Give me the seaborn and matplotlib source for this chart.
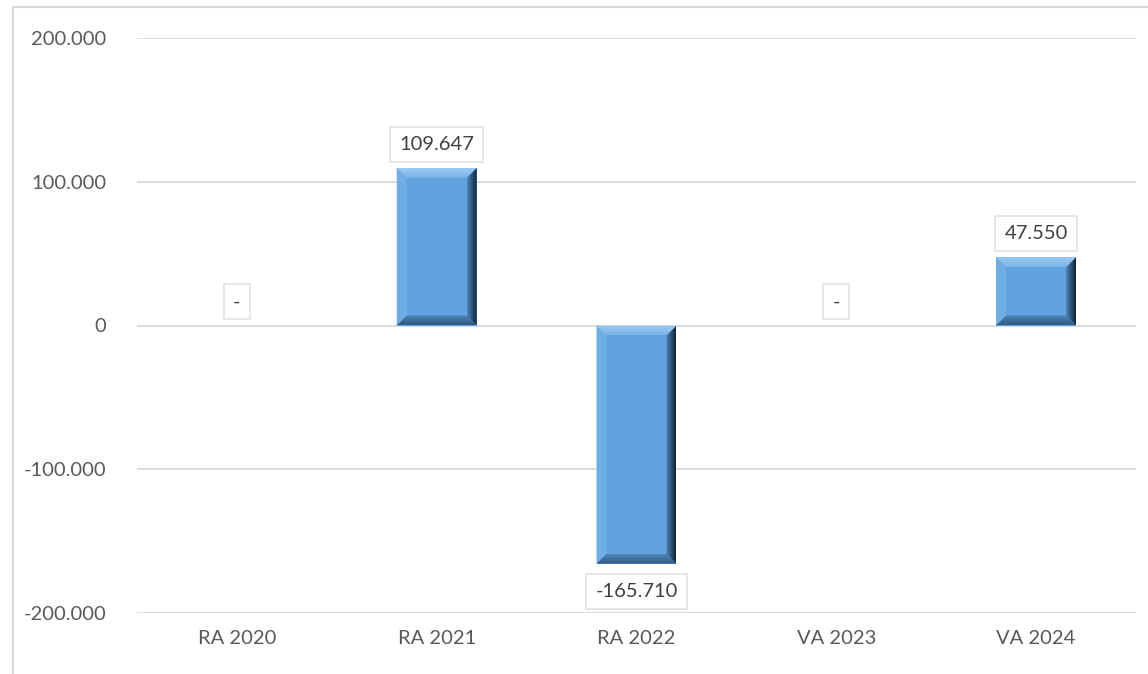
import matplotlib
matplotlib.use("Agg")
import matplotlib.pyplot as plt
import seaborn as sns
import numpy as np
import pandas as pd
from matplotlib.patches import Polygon
from matplotlib.ticker import FuncFormatter, MultipleLocator
from matplotlib.colors import LinearSegmentedColormap

categories = ["RA 2020", "RA 2021", "RA 2022", "VA 2023", "VA 2024"]
values = [0, 109647, -165710, 0, 47550]

df = pd.DataFrame({"cat": categories, "val": values})

sns.set_theme(style="white")
plt.rcParams['font.family'] = ['Lato', 'DejaVu Sans']
txt = "#595959"

fig = plt.figure(figsize=(11.48, 6.74), dpi=100)
ax = fig.add_axes([137/1148, 1 - 613/674, 999/1148, 575/674])

sns.barplot(data=df, x="cat", y="val", color="#61A3E0", width=0.4,
            saturation=1, ax=ax, zorder=3)

ax.set_ylim(-200000, 200000)
ax.set_xlim(-0.5, 4.5)
ax.yaxis.set_major_locator(MultipleLocator(100000))
ax.yaxis.set_major_formatter(FuncFormatter(lambda v, p: "0" if v == 0 else f"{v:,.0f}".replace(",", ".")))
ax.grid(axis="y", color="#d9d9d9", lw=1.3, zorder=0)
for s in ax.spines.values():
    s.set_visible(False)
ax.tick_params(axis="both", length=0, labelsize=14.5, labelcolor=txt)
ax.tick_params(axis="y", pad=22)
ax.tick_params(axis="x", pad=12)
ax.set_xlabel("")
ax.set_ylabel("")

# bevel look on each bar
fig.canvas.draw()
x_px = ax.get_window_extent().width / 5.0
y_px = ax.get_window_extent().height / 400000.0
bx = 10 / x_px
by = 10 / y_px
hgrad = LinearSegmentedColormap.from_list("h", ["#4f86b8", "#2c557c", "#0f2235"])
tgrad = LinearSegmentedColormap.from_list("t", ["#7ab3e6", "#9ccaf2"])
bgrad = LinearSegmentedColormap.from_list("b", ["#2f5a82", "#4f85b8"])
for p in ax.patches:
    p.set_edgecolor("none")
    x0 = p.get_x(); w = p.get_width()
    y0 = min(p.get_y(), p.get_y() + p.get_height())
    y1 = max(p.get_y(), p.get_y() + p.get_height())
    if y1 - y0 == 0:
        continue
    x1 = x0 + w
    top = Polygon([[x0, y1], [x1, y1], [x1 - bx, y1 - by], [x0 + bx, y1 - by]],
                  closed=True, fc="none", ec="none", zorder=4)
    left = Polygon([[x0, y0], [x0, y1], [x0 + bx, y1 - by], [x0 + bx, y0 + by]],
                   closed=True, fc="#70ade6", ec="none", zorder=4)
    bot = Polygon([[x0, y0], [x1, y0], [x1 - bx, y0 + by], [x0 + bx, y0 + by]],
                  closed=True, fc="none", ec="none", zorder=4)
    right = Polygon([[x1, y0], [x1, y1], [x1 - bx, y1 - by], [x1 - bx, y0 + by]],
                    closed=True, fc="none", ec="none", zorder=4)
    for poly in (top, left, bot, right):
        ax.add_patch(poly)
    im = ax.imshow(np.linspace(0, 1, 50).reshape(1, -1), cmap=hgrad, aspect="auto",
                   extent=[x1 - bx, x1, y0, y1], zorder=5, interpolation="bilinear")
    im.set_clip_path(right)
    im = ax.imshow(np.linspace(0, 1, 50).reshape(-1, 1), cmap=tgrad, aspect="auto",
                   origin="lower", extent=[x0, x1, y1 - by, y1], zorder=5, interpolation="bilinear")
    im.set_clip_path(top)
    im = ax.imshow(np.linspace(0, 1, 50).reshape(-1, 1), cmap=bgrad, aspect="auto",
                   origin="lower", extent=[x0, x1, y0, y0 + by], zorder=5, interpolation="bilinear")
    im.set_clip_path(bot)
ax.set_xlim(-0.5, 4.5)
ax.set_ylim(-200000, 200000)

# data labels
for i, v in enumerate(values):
    lab = "-" if v == 0 else f"{v:,.0f}".replace(",", ".")
    off = -20 if v < 0 else 17
    ax.annotate(lab, (i, v), xytext=(0, off), textcoords="offset points",
                ha="center", va="center", fontsize=14.5, color="#404040", zorder=6,
                bbox=dict(boxstyle="square,pad=0.45", fc="white", ec="#e3e3e3", lw=1.2))

# outer chart frame
fig.add_artist(plt.Line2D([13/1148, 13/1148], [0, 1 - 7/674], color="#d9d9d9", lw=1.5, transform=fig.transFigure))
fig.add_artist(plt.Line2D([13/1148, 1], [1 - 7/674, 1 - 7/674], color="#d9d9d9", lw=1.5, transform=fig.transFigure))

fig.savefig("out.png", dpi=100, facecolor="white")
